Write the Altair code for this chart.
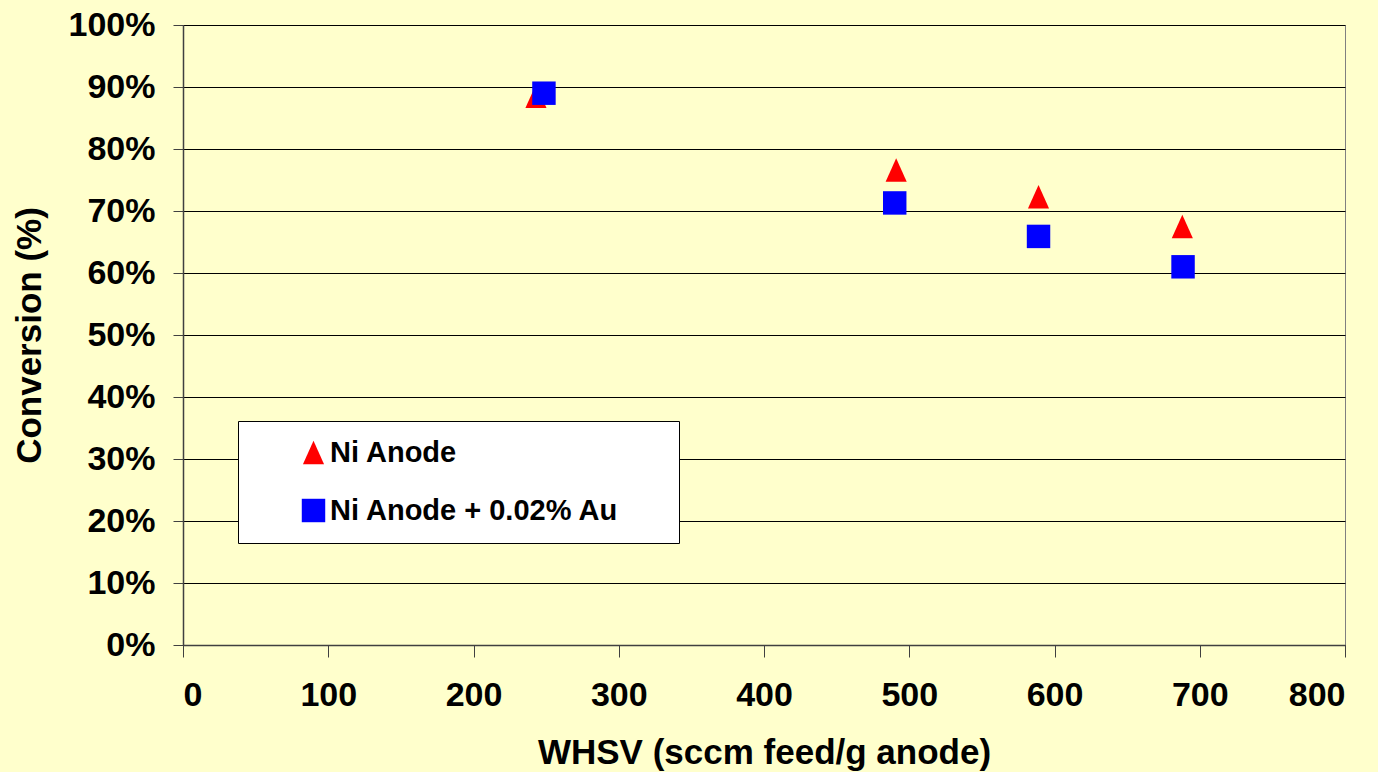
import altair as alt
import pandas as pd

whsv_ni = [243, 491, 589, 688]
conv_ni = [0.885, 0.766, 0.723, 0.675]
whsv_au = [248.5, 490, 589, 688.5]
conv_au = [0.890, 0.713, 0.659, 0.610]
series_names = ["Ni Anode", "Ni Anode + 0.02% Au"]

rows = []
for x, y in zip(whsv_ni, conv_ni):
    rows.append({"whsv": x, "conv": y, "series": series_names[0]})
for x, y in zip(whsv_au, conv_au):
    rows.append({"whsv": x, "conv": y, "series": series_names[1]})
df = pd.DataFrame(rows)

FONT = "Liberation Sans"
legend = alt.Legend(
    title=".", titleOrient="right", titleFontSize=2, titleOpacity=0, titlePadding=42,
    orient="none", legendX=55, legendY=396,
    fillColor="white", strokeColor="black",
    padding=17, symbolOffset=44, rowPadding=28, symbolSize=550, labelOffset=2,
    labelFont=FONT, labelFontSize=29, labelFontWeight="bold", labelColor="black",
    labelLimit=700, symbolStrokeWidth=0,
)

chart = alt.Chart(df).mark_point(filled=True, opacity=1, size=550).encode(
    x=alt.X("whsv:Q", scale=alt.Scale(domain=[0, 800], nice=False),
            axis=alt.Axis(title="WHSV (sccm feed/g anode)", values=list(range(0, 801, 100)),
                          grid=False, tickSize=12, labelPadding=21,
                          titleBaseline="middle", titleY=107)),
    y=alt.Y("conv:Q", scale=alt.Scale(domain=[0, 1], nice=False),
            axis=alt.Axis(title="Conversion (%)", format=".0%", values=[i / 10 for i in range(11)],
                          grid=True, gridColor="black", gridWidth=1, tickSize=10, labelPadding=18,
                          titleBaseline="middle", titleX=-154)),
    color=alt.Color("series:N", scale=alt.Scale(domain=series_names, range=["#FF0000", "#0000FF"]), legend=legend),
    shape=alt.Shape("series:N", scale=alt.Scale(domain=series_names,
                    range=["M0,-1L-0.9,1L0.9,1Z", "square"]), legend=legend),
    order=alt.Order("series:N"),
).properties(
    width=1162, height=620,
    autosize="none",
    padding={"left": 183, "top": 25, "right": 33, "bottom": 127},
    background="#FFFFCC",
).configure_view(
    stroke="#808080", strokeWidth=1, fill="#FFFFCC",
).configure_axis(
    labelFont=FONT, labelFontSize=34, labelFontWeight="bold", labelColor="black",
    titleFont=FONT, titleFontSize=35, titleFontWeight="bold", titleColor="black",
    domainColor="#404040", tickColor="#404040", domainWidth=1.5, tickWidth=1,
).configure_legend(strokeWidth=1)

chart.save("out.html", embed_options={"renderer": "svg", "actions": False})
